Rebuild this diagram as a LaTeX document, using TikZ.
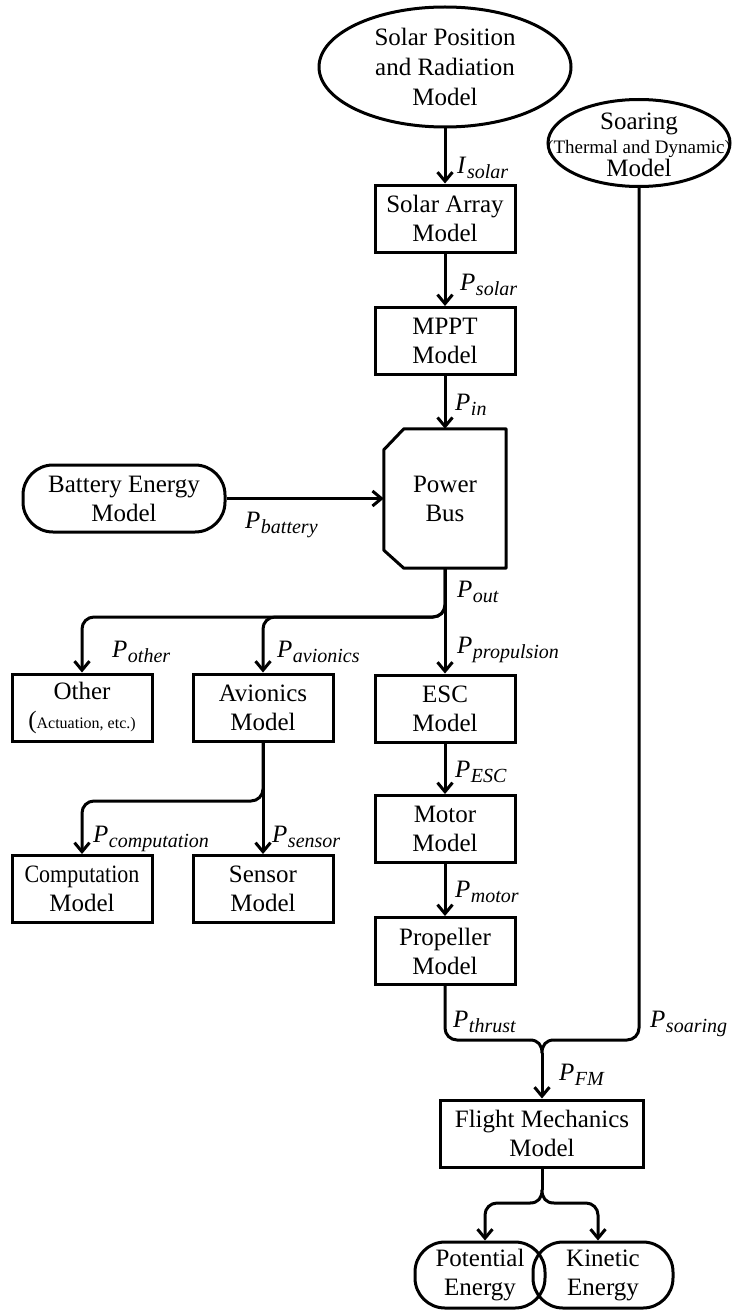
\documentclass[tikz,border=0pt]{standalone}
\usepackage{fontspec}
\setmainfont{Liberation Serif}
\usepackage{graphicx}
\usetikzlibrary{arrows.meta,shapes.geometric}
\newcommand\mylbl[2]{\textit{#1}\kern0.5pt\raisebox{-5pt}{\fontsize{20}{20}\selectfont\textit{#2}}}
\begin{document}
\begin{tikzpicture}[x=1pt,y=-1pt,
  every node/.style={font=\fontsize{25}{29}\selectfont, inner sep=0pt, align=center},
  box/.style={draw, line width=3pt, minimum width=140pt, minimum height=67pt},
  ell/.style={draw, ellipse, line width=3pt},
  pill/.style={draw, line width=3pt, rounded corners=30pt},
  conn/.style={line width=3pt, line join=round},
  arr/.style={conn, -{Straight Barb[length=9pt,width=15pt]}},
  lab/.style={anchor=base west, font=\fontsize{25}{29}\selectfont}]
\useasboundingbox (0,0) rectangle (734,1311);

% nodes
\node[ell, minimum width=252pt, minimum height=120pt, font=\fontsize{25}{30}\selectfont] (solar) at (445,67) {Solar Position\\and Radiation\\Model};
\node[ell, minimum width=182pt, minimum height=87pt] (soar) at (639,143) {};
\node (soartext) at (639,145) {Soaring\\[-5pt]{\fontsize{19}{22}\selectfont(Thermal and Dynamic)}\\[-6pt]Model};
\node[box] (sa) at (445,218.5) {Solar Array\\Model};
\node[box] (mppt) at (445,341) {MPPT\\Model};
\node[minimum width=122pt, minimum height=139pt] (pbus) at (445,498.5) {Power\\Bus};
\draw[conn] ([xshift=20pt]pbus.north west) -- (pbus.north east) -- (pbus.south east)
  -- ([xshift=20pt]pbus.south west) -- ([yshift=18pt]pbus.south west)
  -- ([yshift=-21pt]pbus.north west) -- cycle;
\node[pill, minimum width=202pt, minimum height=67pt] (batt) at (124,498.5) {Battery Energy\\Model};
\node[box] (other) at (82,707.5) {Other\\{\fontsize{25}{29}\selectfont(}{\fontsize{16}{18}\selectfont Actuation, etc.)}};
\node[box] (avi) at (263,707.5) {Avionics\\Model};
\node[box] (esc) at (445,708.5) {ESC\\Model};
\node[box] (motor) at (445,829) {Motor\\Model};
\node[box] (prop) at (445,951) {Propeller\\Model};
\node[box] (comp) at (82,889) {\scalebox{0.88}[1]{Computation}\\Model};
\node[box] (sens) at (263,889) {Sensor\\Model};
\node[box, minimum width=203pt] (fm) at (542,1133.5) {Flight Mechanics\\Model};
\node[pill, minimum width=130pt, minimum height=66pt] (pot) at (480,1275) {Potential\\Energy};
\node[pill, minimum width=140pt, minimum height=66pt] (kin) at (603,1275) {Kinetic\\Energy};

% junction coordinates
\coordinate (b1) at (445,617);
\coordinate (b2) at (263,801);
\coordinate (cl) at (530,1040);
\coordinate (cr) at (554,1040);
\coordinate (cj) at (542,1053);
\coordinate (sj) at (542,1190);
\coordinate (sl) at (530,1203);
\coordinate (sr) at (554,1203);

% connectors
\draw[arr] (solar.south) -- (sa.north);
\draw[arr] (sa.south) -- (mppt.north);
\draw[arr] (mppt.south) -- (pbus.north);
\draw[arr] (batt.east) -- (pbus.west);
\draw[arr] (pbus.south) -- (esc.north);
\draw[arr, rounded corners=12pt] (pbus.south) -- (b1) -| (other.north);
\draw[arr, rounded corners=12pt] (pbus.south) -- (b1) -| (avi.north);
\draw[arr] (avi.south) -- (sens.north);
\draw[arr, rounded corners=12pt] (avi.south) -- (b2) -| (comp.north);
\draw[arr] (esc.south) -- (motor.north);
\draw[arr] (motor.south) -- (prop.north);
\draw[conn, rounded corners=12pt] (prop.south) |- (cl);
\draw[conn, rounded corners=12pt] (soar.south) |- (cr);
\draw[conn] (cl) .. controls (538,1040) and (542,1045) .. (cj) .. controls (542,1045) and (546,1040) .. (cr);
\draw[arr] (cj) -- (fm.north);
\draw[conn] (fm.south) -- (sj);
\draw[conn] (sl) .. controls (538,1203) and (542,1198) .. (sj) .. controls (542,1198) and (546,1203) .. (sr);
\draw[arr, rounded corners=12pt] (sl) -| ([xshift=5pt]pot.north);
\draw[arr, rounded corners=12pt] (sr) -| ([xshift=-5pt]kin.north);

% labels
\node[lab] (lisolar) at (457,173) {\mylbl{I}{solar}};
\node[lab] (lpsolar) at (460,290) {\mylbl{P}{solar}};
\node[lab] (lpin) at (455,410) {\mylbl{P}{in}};
\node[lab] (lpbat) at (245,528) {\mylbl{P}{battery}};
\node[lab] (lpout) at (457,597) {\mylbl{P}{out}};
\node[lab] (lpoth) at (112,657) {\mylbl{P}{other}};
\node[lab] (lpavi) at (277,657) {\mylbl{P}{avionics}};
\node[lab] (lpprop) at (457,653) {\mylbl{P}{propulsion}};
\node[lab] (lpesc) at (455,777) {\mylbl{P}{ESC}};
\node[lab] (lpmot) at (455,897) {\mylbl{P}{motor}};
\node[lab] (lpcomp) at (93,842) {\mylbl{P}{computation}};
\node[lab] (lpsens) at (272,842) {\mylbl{P}{sensor}};
\node[lab] (lpthr) at (453,1027) {\mylbl{P}{thrust}};
\node[lab] (lpsoar) at (650,1027) {\mylbl{P}{soaring}};
\node[lab] (lpfm) at (559,1080) {\mylbl{P}{FM}};
\end{tikzpicture}
\end{document}
